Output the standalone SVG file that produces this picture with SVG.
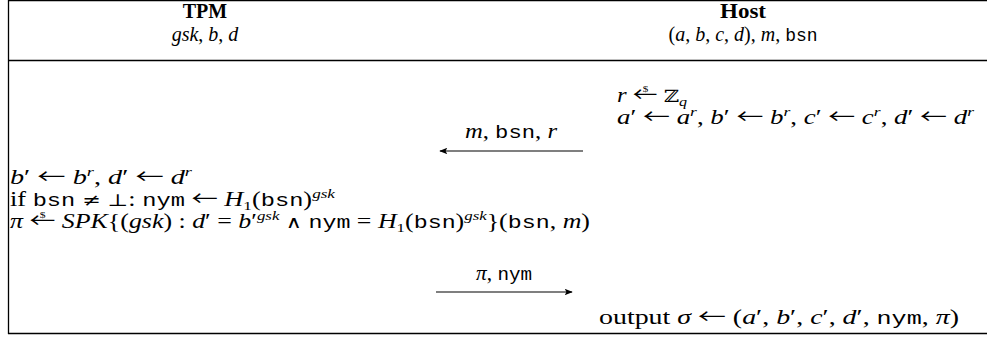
<svg xmlns="http://www.w3.org/2000/svg" width="987" height="337" viewBox="0 0 987 337">
<style>
text{font-family:"Liberation Serif","DejaVu Serif",serif;font-size:20px;fill:#000}
.h{font-size:20px}
.b{font-weight:bold}
.i{font-style:italic}
.tt{font-family:"Liberation Mono","DejaVu Sans Mono",monospace;font-size:18px}
.sym{font-family:"DejaVu Serif","DejaVu Sans",serif;font-size:17px}
.ar{font-family:"Noto Sans CJK JP","DejaVu Sans",sans-serif;font-size:20px}
.sup{font-size:13px;baseline-shift:8px}
.sub{font-size:13px;baseline-shift:-4px}
.sm{font-size:9px}
.frame{stroke:#000;stroke-width:1.3;fill:none}
.conn{stroke:#000;stroke-width:1.2;fill:none}
</style>
<defs>
<marker id="ah" viewBox="0 0 10 8" refX="9" refY="4" markerWidth="9" markerHeight="6.4" orient="auto" markerUnits="userSpaceOnUse">
<path d="M0,0 L10,4 L0,8 L2,4 Z" fill="#000"/>
</marker>
</defs>
<g id="frame">
<line class="frame" x1="8" y1="0.7" x2="987" y2="0.7"/>
<line class="frame" x1="8" y1="60.5" x2="987" y2="60.5"/>
<line class="frame" x1="8" y1="333.5" x2="987" y2="333.5"/>
<line class="frame" x1="8.5" y1="0" x2="8.5" y2="334"/>
</g>
<g id="tpm">
<text x="205" y="18" text-anchor="middle" class="b h">TPM</text>
<text x="205" y="41" text-anchor="middle" class="h"><tspan class="i">gsk</tspan>, <tspan class="i">b</tspan>, <tspan class="i">d</tspan></text>
</g>
<g id="host">
<text x="743" y="18" text-anchor="middle" class="b h" textLength="46" lengthAdjust="spacingAndGlyphs">Host</text>
<text x="743" y="41" text-anchor="middle" class="h">(<tspan class="i">a</tspan>, <tspan class="i">b</tspan>, <tspan class="i">c</tspan>, <tspan class="i">d</tspan>), <tspan class="i">m</tspan>, <tspan class="tt">bsn</tspan></text>
</g>
<g id="host-blind">
<text x="617" y="102" textLength="70" lengthAdjust="spacingAndGlyphs"><tspan class="i">r</tspan> <tspan class="ar">←</tspan><tspan class="sm" dx="-12" dy="-10">$</tspan><tspan dx="7.5" dy="10"> </tspan><tspan class="sym">ℤ</tspan><tspan class="sub i">q</tspan></text>
<text x="617" y="124" textLength="357" lengthAdjust="spacingAndGlyphs"><tspan class="i">a</tspan>′ <tspan class="ar">←</tspan> <tspan class="i">a</tspan><tspan class="sup i">r</tspan>, <tspan class="i">b</tspan>′ <tspan class="ar">←</tspan> <tspan class="i">b</tspan><tspan class="sup i">r</tspan>, <tspan class="i">c</tspan>′ <tspan class="ar">←</tspan> <tspan class="i">c</tspan><tspan class="sup i">r</tspan>, <tspan class="i">d</tspan>′ <tspan class="ar">←</tspan> <tspan class="i">d</tspan><tspan class="sup i">r</tspan></text>
</g>
<g id="tpm-sign">
<text x="10" y="184" textLength="182" lengthAdjust="spacingAndGlyphs"><tspan class="i">b</tspan>′ <tspan class="ar">←</tspan> <tspan class="i">b</tspan><tspan class="sup i">r</tspan>, <tspan class="i">d</tspan>′ <tspan class="ar">←</tspan> <tspan class="i">d</tspan><tspan class="sup i">r</tspan></text>
<text x="10" y="206" textLength="325" lengthAdjust="spacingAndGlyphs">if <tspan class="tt">bsn</tspan> <tspan class="sym">≠</tspan> <tspan class="sym">⊥</tspan>: <tspan class="tt">nym</tspan> <tspan class="ar">←</tspan> <tspan class="i">H</tspan><tspan class="sub">1</tspan>(<tspan class="tt">bsn</tspan>)<tspan class="sup i">gsk</tspan></text>
<text x="10" y="228" textLength="580" lengthAdjust="spacingAndGlyphs"><tspan class="i">π</tspan> <tspan class="ar">←</tspan><tspan class="sm" dx="-12" dy="-10">$</tspan><tspan dx="7.5" dy="10"> </tspan><tspan class="i">SPK</tspan>{(<tspan class="i">gsk</tspan>) : <tspan class="i">d</tspan>′ = <tspan class="i">b</tspan>′<tspan class="sup i">gsk</tspan> <tspan class="sym">∧</tspan> <tspan class="tt">nym</tspan> = <tspan class="i">H</tspan><tspan class="sub">1</tspan>(<tspan class="tt">bsn</tspan>)<tspan class="sup i">gsk</tspan>}(<tspan class="tt">bsn</tspan>, <tspan class="i">m</tspan>)</text>
</g>
<g id="host-output">
<text x="599" y="324" textLength="360" lengthAdjust="spacingAndGlyphs">output <tspan class="i">σ</tspan> <tspan class="ar">←</tspan> (<tspan class="i">a</tspan>′, <tspan class="i">b</tspan>′, <tspan class="i">c</tspan>′, <tspan class="i">d</tspan>′, <tspan class="tt">nym</tspan>, <tspan class="i">π</tspan>)</text>
</g>
<g id="connectors">
<line class="conn" x1="583" y1="151" x2="440" y2="151" marker-end="url(#ah)"/>
<text x="511" y="138" text-anchor="middle" textLength="92" lengthAdjust="spacingAndGlyphs"><tspan class="i">m</tspan>, <tspan class="tt">bsn</tspan>, <tspan class="i">r</tspan></text>
<line class="conn" x1="436" y1="292" x2="572" y2="292" marker-end="url(#ah)"/>
<text x="504" y="280" text-anchor="middle" textLength="56" lengthAdjust="spacingAndGlyphs"><tspan class="i">π</tspan>, <tspan class="tt">nym</tspan></text>
</g>
</svg>
